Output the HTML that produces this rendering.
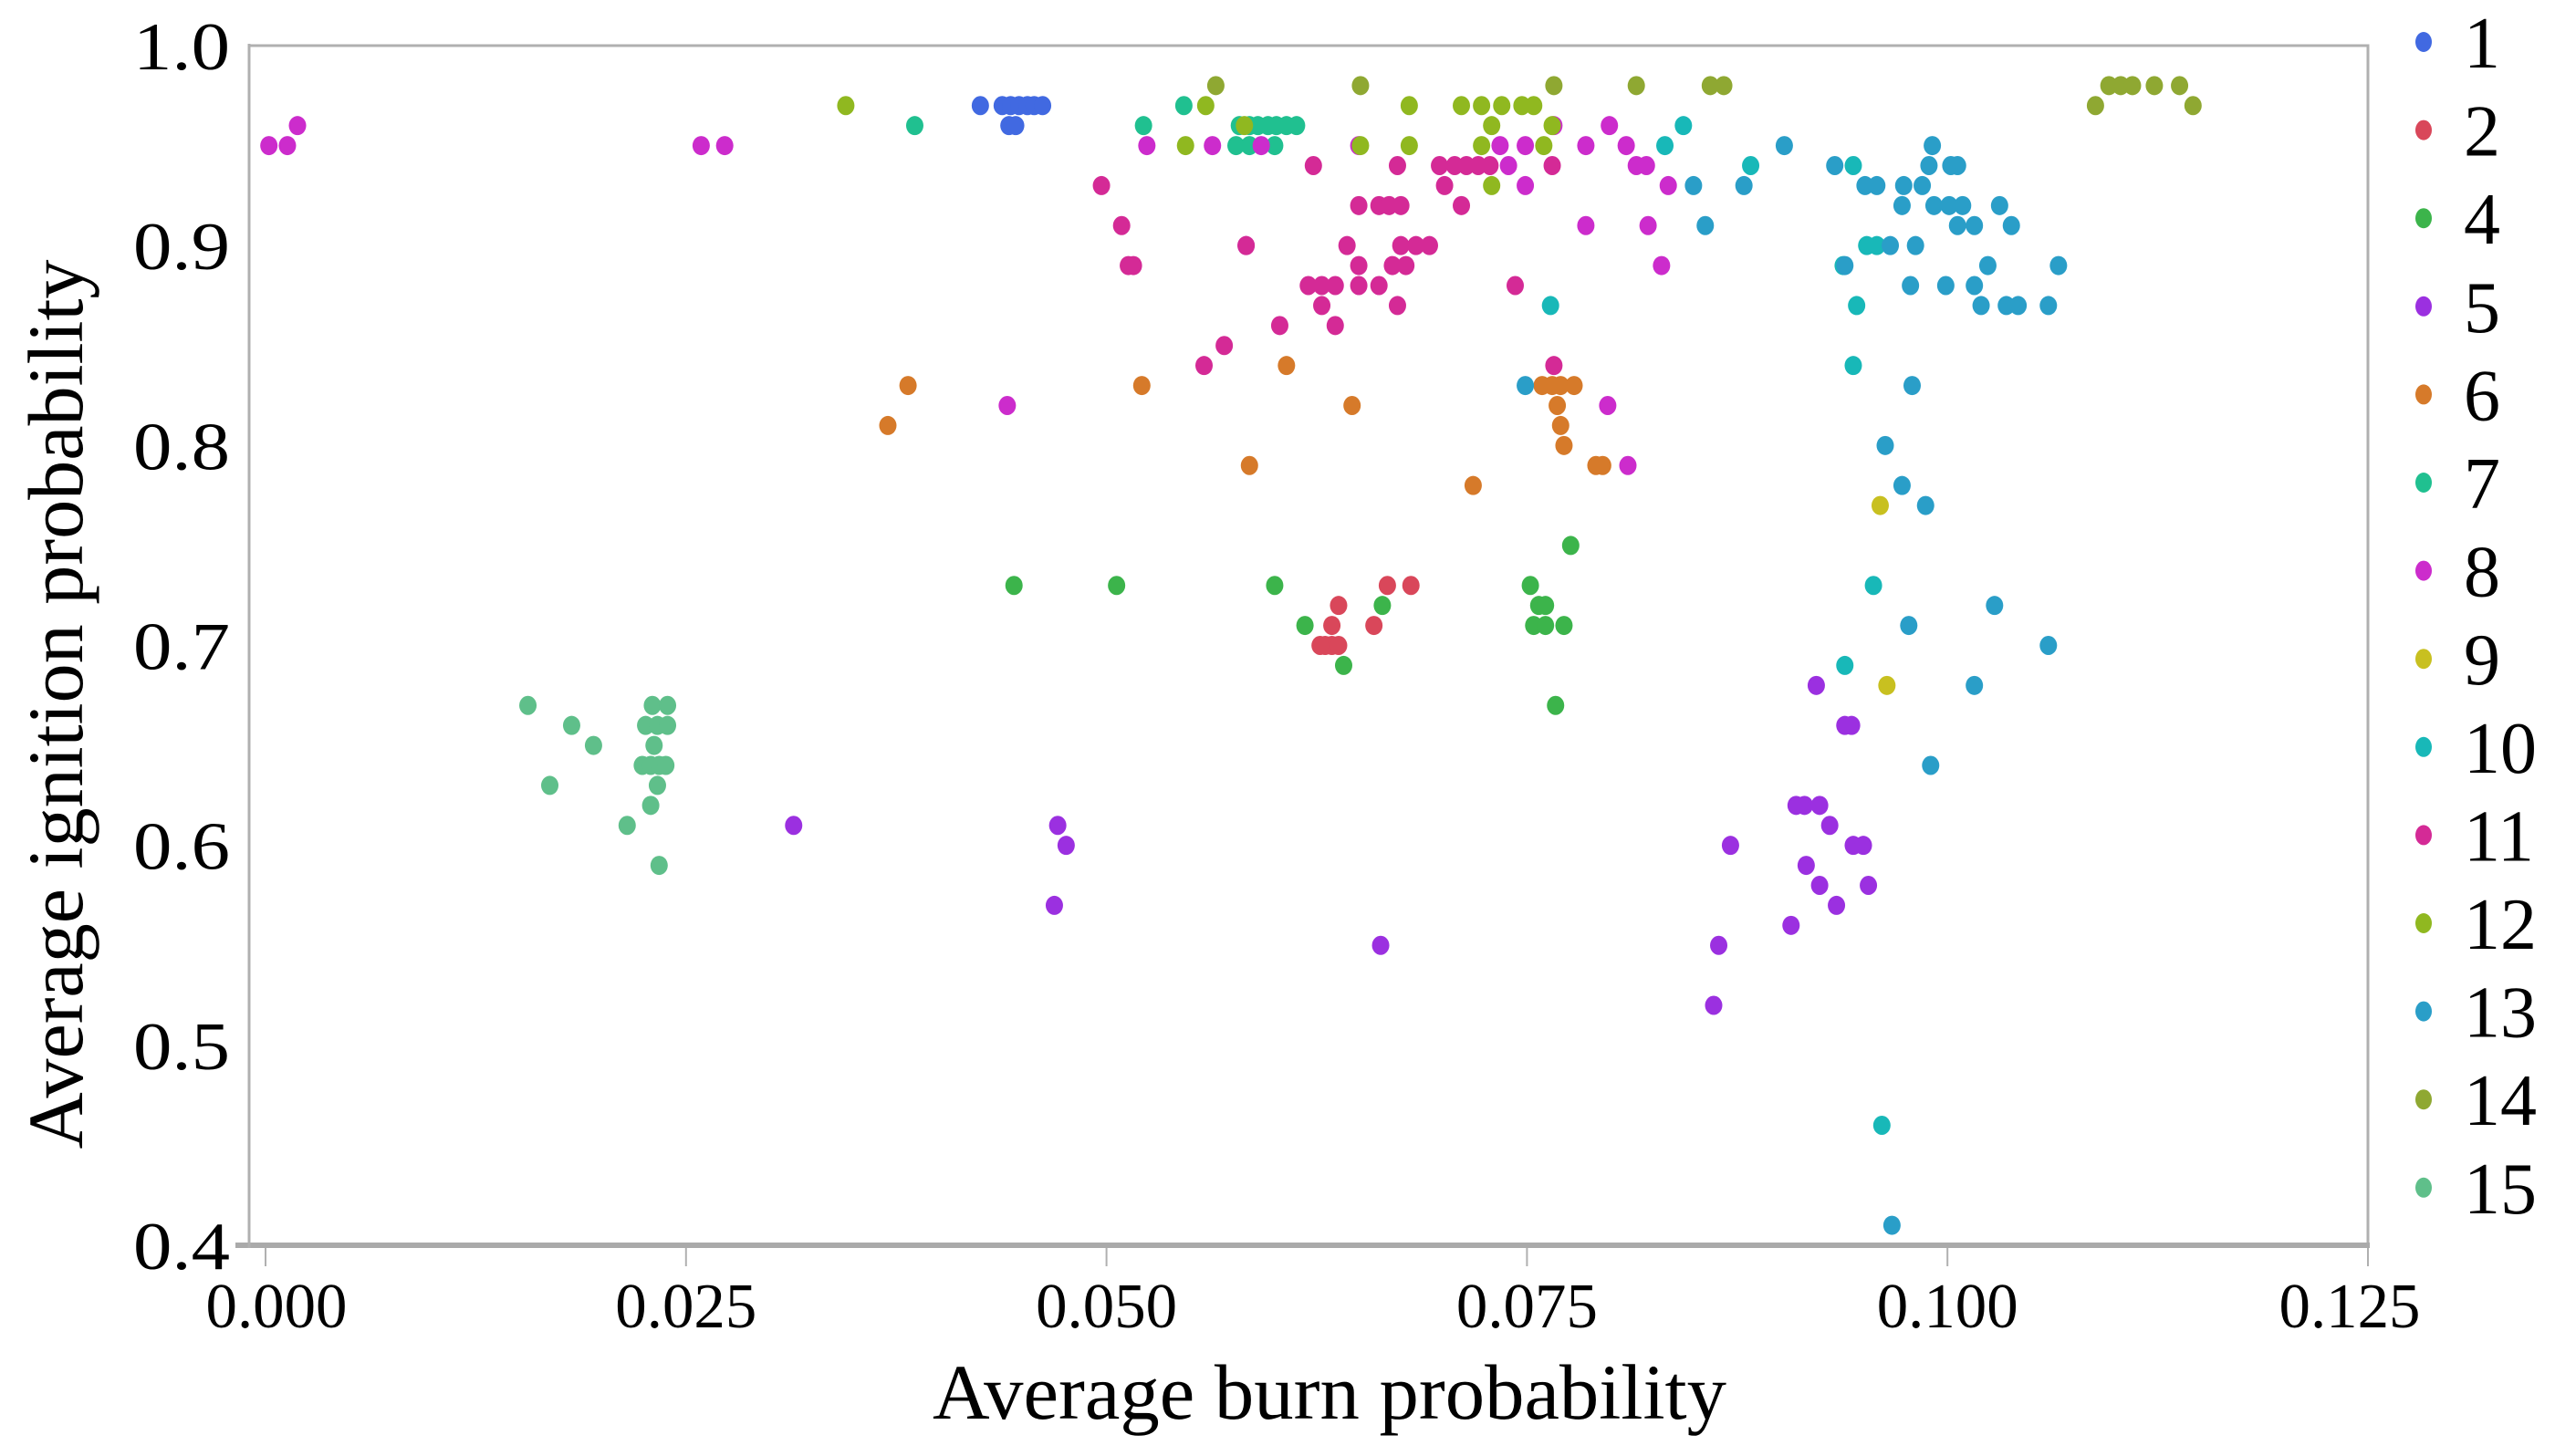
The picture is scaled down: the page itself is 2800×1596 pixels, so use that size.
<!DOCTYPE html>
<html><head><meta charset="utf-8"><style>
html,body{margin:0;padding:0;background:#fff;}
svg{display:block;font-family:"Liberation Serif",serif;}
</style></head><body>
<svg id="chart" width="2800" height="1596" viewBox="0 0 2800 1596" xmlns="http://www.w3.org/2000/svg">
<g id="frame"></g>
<g id="points"></g>
<g id="axes"></g>
<g id="legend"></g>
<text x="1457" y="1555" font-size="86" text-anchor="middle" textLength="870" lengthAdjust="spacingAndGlyphs">Average burn probability</text>
<text x="0" y="0" font-size="86" text-anchor="middle" textLength="975" lengthAdjust="spacingAndGlyphs" transform="translate(90,772) rotate(-90)">Average ignition probability</text>
</svg>
<script>
const xTicks=[0,0.025,0.05,0.075,0.1,0.125];
const xTickLabels=["0.000","0.025","0.050","0.075","0.100","0.125"];
const yTicks=[0.4,0.5,0.6,0.7,0.8,0.9,1.0];
const yTickLabels=["0.4","0.5","0.6","0.7","0.8","0.9","1.0"];
const groups=["1","2","4","5","6","7","8","9","10","11","12","13","14","15"];
const colors=["#4169e1","#d9475a","#3cb44b","#9b30e0","#d67a2a","#20c090","#cc2ccc","#c8c020","#18b8b8","#d42a96","#90b820","#2a9ec8","#8fa832","#5fbf8a"];
const g1x=[.0425,.0438,.0443,.0448,.0453,.0457,.0462,.0442,.0446];
const g1y=[.97,.97,.97,.97,.97,.97,.97,.96,.96];
const g2x=[.0638,.0634,.0630,.0634,.0638,.0659,.0667,.0681,.0627];
const g2y=[.72,.71,.70,.70,.70,.71,.73,.73,.70];
const g4x=[.0445,.0506,.0600,.0618,.0664,.0641,.0752,.0757,.0761,.0754,.0761,.0772,.0776,.0767];
const g4y=[.73,.73,.73,.71,.72,.69,.73,.72,.72,.71,.71,.71,.75,.67];
const g5x=[.0314,.0471,.0476,.0469,.0663,.0861,.0864,.0871,.0922,.0910,.0915,.0924,.0930,.0916,.0924,.0934,.0907,.0939,.0943,.0944,.0950,.0953];
const g5y=[.61,.61,.60,.57,.55,.52,.55,.60,.68,.62,.62,.62,.61,.59,.58,.57,.56,.66,.66,.60,.60,.58];
const g6x=[.0370,.0382,.0521,.0607,.0585,.0646,.0718,.0759,.0765,.0770,.0778,.0768,.0770,.0772,.0791,.0795];
const g6y=[.81,.83,.83,.84,.79,.82,.78,.83,.83,.83,.83,.82,.81,.80,.79,.79];
const g7x=[.0386,.0546,.0522,.0579,.0585,.0590,.0596,.0601,.0607,.0613,.0577,.0585,.0600];
const g7y=[.96,.97,.96,.96,.96,.96,.96,.96,.96,.96,.95,.95,.95];
const g8x=[.0002,.0013,.0019,.0259,.0273,.0441,.0524,.0563,.0592,.0650,.0734,.0749,.0766,.0799,.0785,.0809,.0739,.0749,.0785,.0815,.0821,.0834,.0822,.0830,.0798,.0810,.0583];
const g8y=[.95,.95,.96,.95,.95,.82,.95,.95,.95,.95,.95,.95,.96,.96,.95,.95,.94,.93,.91,.94,.94,.93,.91,.89,.82,.79,.90];
const g9x=[.0960,.0964];
const g9y=[.77,.68];
const g10x=[.0764,.0939,.0956,.0961,.0944,.0946,.0952,.0958,.0938,.0944,.0832,.0843,.0883];
const g10y=[.87,.69,.73,.46,.84,.87,.90,.90,.89,.94,.95,.96,.94];
const g11x=[.0623,.0673,.0698,.0707,.0714,.0721,.0728,.0765,.0701,.0650,.0662,.0668,.0675,.0711,.0497,.0509,.0513,.0516,.0583,.0643,.0675,.0684,.0692,.0650,.0670,.0678,.0620,.0628,.0636,.0650,.0662,.0743,.0628,.0673,.0603,.0636,.0570,.0558,.0766];
const g11y=[.94,.94,.94,.94,.94,.94,.94,.94,.93,.92,.92,.92,.92,.92,.93,.91,.89,.89,.90,.90,.90,.90,.90,.89,.89,.89,.88,.88,.88,.88,.88,.88,.87,.87,.86,.86,.85,.84,.84];
const g12x=[.0345,.0559,.0547,.0582,.0651,.0680,.0680,.0711,.0723,.0735,.0747,.0754,.0729,.0765,.0723,.0729,.0760];
const g12y=[.97,.97,.95,.96,.95,.97,.95,.97,.97,.97,.97,.97,.96,.96,.95,.93,.95];
const g13x=[.0903,.0933,.0991,.0989,.1002,.1006,.0849,.0879,.0951,.0958,.0974,.0985,.0973,.0992,.1001,.1009,.1031,.0856,.1006,.1016,.1038,.0966,.0981,.0939,.1024,.1066,.0978,.0999,.1016,.1020,.1035,.1042,.1060,.0979,.0963,.0973,.0749,.0987,.0977,.1028,.1016,.1060,.0990,.0967];
const g13y=[.95,.94,.95,.94,.94,.94,.93,.93,.93,.93,.93,.93,.92,.92,.92,.92,.92,.91,.91,.91,.91,.90,.90,.89,.89,.89,.88,.88,.88,.87,.87,.87,.87,.83,.80,.78,.83,.77,.71,.72,.68,.70,.64,.41];
const g14x=[.0565,.0651,.0766,.0815,.0859,.0867,.1096,.1103,.1110,.1123,.1138,.1088,.1146];
const g14y=[.98,.98,.98,.98,.98,.98,.98,.98,.98,.98,.98,.97,.97];
const g15x=[.0156,.0169,.0182,.0195,.0215,.0230,.0239,.0226,.0233,.0239,.0231,.0224,.0229,.0234,.0238,.0233,.0229,.0234];
const g15y=[.67,.63,.66,.65,.61,.67,.67,.66,.66,.66,.65,.64,.64,.64,.64,.63,.62,.59];
const seriesX=[g1x,g2x,g4x,g5x,g6x,g7x,g8x,g9x,g10x,g11x,g12x,g13x,g14x,g15x];
const seriesY=[g1y,g2y,g4y,g5y,g6y,g7y,g8y,g9y,g10y,g11y,g12y,g13y,g14y,g15y];

const NS="http://www.w3.org/2000/svg";
const X0=291,X1=2595,Y0=1365,Y1=50;
function xs(v){return X0+(v-0)/(0.125-0)*(X1-X0);}
function ys(v){return Y0-(v-0.4)/(1.0-0.4)*(Y0-Y1);}
function mk(tag,attrs,parent){const e=document.createElementNS(NS,tag);for(const k in attrs)e.setAttribute(k,attrs[k]);parent.appendChild(e);return e;}

const frame=document.getElementById('frame');
const fr=mk('rect',{x:273,y:50,width:2322,height:1315,fill:'none',stroke:'#b0b0b0','stroke-width':3},frame);



const axes=document.getElementById('axes');
const xl=mk('line',{x1:258,y1:1365,x2:2597,y2:1365,stroke:'#aaaaaa','stroke-width':6},axes);


const yl=mk('line',{x1:273,y1:48,x2:273,y2:1368,stroke:'#b0b0b0','stroke-width':3},axes);


xTicks.forEach((t,i)=>{
  const tk=mk('line',{x1:xs(t),y1:1368,x2:xs(t),y2:1388,stroke:'#b0b0b0','stroke-width':2},axes);
  
  
  const last=i===xTicks.length-1;
  const tx=last?xs(t)-20:(i===0?xs(t)+12:xs(t));
  const lb=mk('text',{x:tx,y:1455,'font-size':70,'text-anchor':'middle',textLength:155,lengthAdjust:'spacingAndGlyphs'},axes);
  lb.textContent=xTickLabels[i];
  
  
});
yTicks.forEach((t,i)=>{
  const lb=mk('text',{x:252,y:ys(t)+26,'font-size':74,'text-anchor':'end',textLength:106,lengthAdjust:'spacingAndGlyphs'},axes);
  lb.textContent=yTickLabels[i];
  
  
});

const pts=document.getElementById('points');
seriesX.forEach((xsArr,si)=>{
  const ysArr=seriesY[si];
  const g=mk('g',{fill:colors[si]},pts);
  
  
  xsArr.forEach((v,j)=>{
    const c=mk('ellipse',{cx:xs(v),cy:ys(ysArr[j]),rx:9.5,ry:10.5},g);
    
    
  });
});

const leg=document.getElementById('legend');
groups.forEach((gname,i)=>{
  const y=46+i*96.6;
  const e=mk('g',{},leg);
  
  
  mk('ellipse',{cx:2656,cy:y,rx:9,ry:11,fill:colors[i]},e);
  const t=mk('text',{x:2700,y:y+28,'font-size':80},e);
  t.textContent=gname;
});
</script>
</body></html>
